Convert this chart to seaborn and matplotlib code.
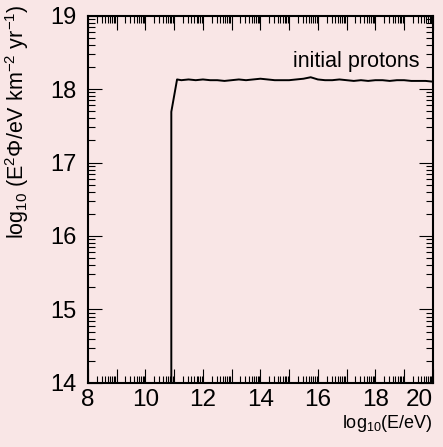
import matplotlib

matplotlib.use("Agg")

import matplotlib.pyplot as plt
import numpy as np
import pandas as pd
import seaborn as sns
from matplotlib.ticker import FixedLocator, NullFormatter

# log10(E/eV) and log10(E^2 Phi)
energy = [10.9, 10.9, 11.1, 11.25, 11.5, 11.75, 12.0, 12.25, 12.5, 12.75, 13.0,
          13.25, 13.5, 13.75, 14.0, 14.25, 14.5, 14.75, 15.0, 15.25, 15.5, 15.75,
          16.0, 16.25, 16.5, 16.75, 17.0, 17.25, 17.5, 17.75, 18.0, 18.25, 18.5,
          18.75, 19.0, 19.25, 19.5, 19.75, 20.0]
flux = [14.0, 17.69, 18.13, 18.12, 18.13, 18.12, 18.13, 18.12, 18.12, 18.11, 18.12,
        18.13, 18.12, 18.13, 18.14, 18.13, 18.12, 18.12, 18.12, 18.13, 18.14, 18.16,
        18.13, 18.12, 18.12, 18.13, 18.12, 18.11, 18.12, 18.11, 18.12, 18.12, 18.11,
        18.12, 18.12, 18.11, 18.11, 18.11, 18.10]
label = "initial protons"

x_major = list(range(8, 21))
x_labels = [8, 10, 12, 14, 16, 18, 20]
y_major = list(range(14, 20))

bg = "#f9e6e6"

sns.set_style("ticks")
plt.rcParams["font.family"] = ["Liberation Sans", "DejaVu Sans"]
plt.rcParams["mathtext.fontset"] = "custom"
plt.rcParams["mathtext.rm"] = "Liberation Sans"
plt.rcParams["mathtext.it"] = "Liberation Sans:italic"
plt.rcParams["text.color"] = "black"
plt.rcParams["axes.labelcolor"] = "black"
plt.rcParams["xtick.color"] = "black"
plt.rcParams["ytick.color"] = "black"

df = pd.DataFrame({"energy": energy, "flux": flux})

fig = plt.figure(figsize=(4.43, 4.47), dpi=100, facecolor=bg)
ax = fig.add_axes([0.1986, 0.1432, 0.7784, 0.8221])
ax.set_facecolor(bg)

sns.lineplot(data=df, x="energy", y="flux", color="black", linewidth=1.4,
             sort=False, estimator=None, errorbar=None, ax=ax)

ax.set_xlim(8, 20)
ax.set_ylim(14, 19)

# log-style minor ticks inside every unit
x_minor = [n + np.log10(k) for n in range(8, 20) for k in range(2, 10)]
y_minor = [n + np.log10(k) for n in range(14, 19) for k in range(2, 10)]
ax.xaxis.set_major_locator(FixedLocator(x_major))
ax.xaxis.set_minor_locator(FixedLocator(x_minor))
ax.yaxis.set_major_locator(FixedLocator(y_major))
ax.yaxis.set_minor_locator(FixedLocator(y_minor))
ax.set_xticklabels([str(v) if v in x_labels else "" for v in x_major])
ax.set_yticklabels([str(v) for v in y_major])
ax.xaxis.set_minor_formatter(NullFormatter())
ax.get_xticklabels()[-1].set_horizontalalignment("right")

ax.tick_params(which="both", direction="in", top=True, right=True,
               colors="black", width=0.8)
ax.tick_params(which="major", length=10)
ax.tick_params(which="minor", length=5)
ax.tick_params(axis="x", which="major", labelsize=17.5, pad=4)
ax.tick_params(axis="y", which="major", labelsize=17, pad=8)

for side in ["left", "right", "top", "bottom"]:
    ax.spines[side].set_visible(True)
    ax.spines[side].set_linewidth(1.5)
    ax.spines[side].set_color("black")

ax.set_xlabel(r"log$_{10}$(E/eV)", fontsize=13, loc="right", labelpad=2)
ax.set_ylabel(r"log$_{10}$ (E$^{2}$Φ/eV km$^{-2}$ yr$^{-1}$)", fontsize=15.5,
              loc="top")
ax.yaxis.set_label_coords(-0.165, 1.03)

ax.text(19.52, 18.37, label, fontsize=15.5, ha="right", va="center")

fig.savefig("out.png", dpi=100, facecolor=bg)
